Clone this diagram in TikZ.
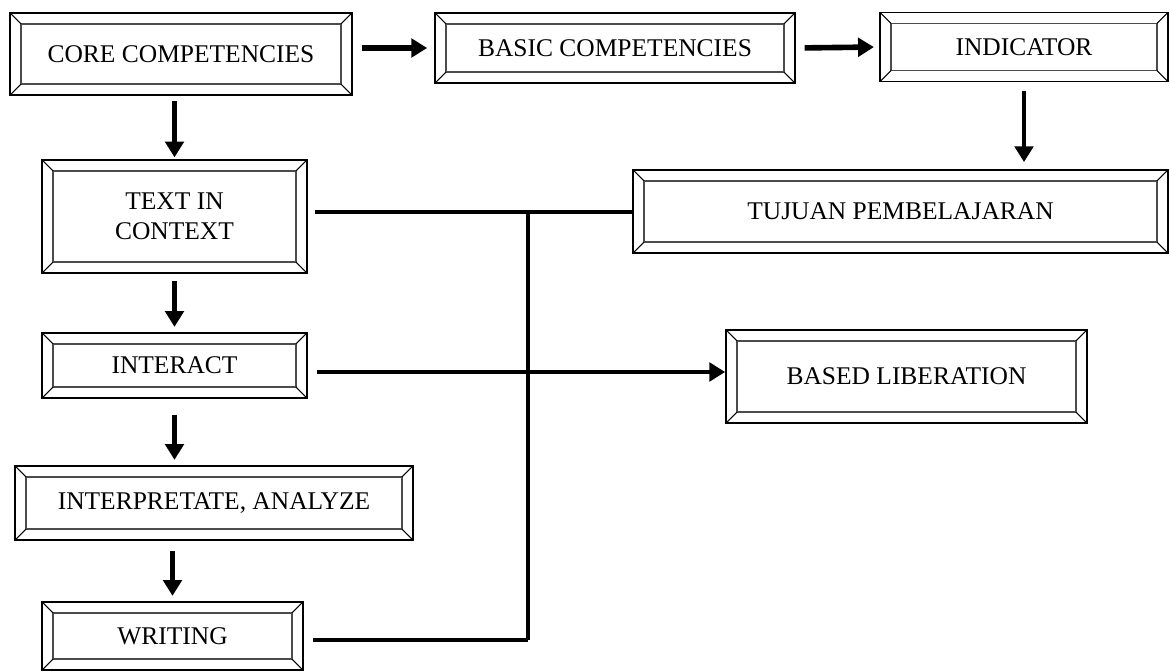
\documentclass[tikz,border=0pt]{standalone}
\usepackage{fontspec}
\setmainfont{Liberation Serif}
\usetikzlibrary{arrows.meta,positioning,calc}

\tikzset{
  bevel/.style={draw, line width=1pt, inner sep=0pt, align=center,
    font=\fontsize{14.5}{17}\selectfont,
    path picture={
      \draw[line width=1.1pt, black!70] ([shift={(0.22cm,-0.22cm)}]path picture bounding box.north west)
        rectangle ([shift={(-0.22cm,0.22cm)}]path picture bounding box.south east);
      \draw[line width=0.6pt] (path picture bounding box.north west) -- ++(0.22cm,-0.22cm)
        (path picture bounding box.north east) -- ++(-0.22cm,-0.22cm)
        (path picture bounding box.south west) -- ++(0.22cm,0.22cm)
        (path picture bounding box.south east) -- ++(-0.22cm,0.22cm);
    }},
  link/.style={line width=2.5pt},
  arr/.style={link, -{Triangle[width=10.5pt,length=9pt]}}
}

\begin{document}
\begin{tikzpicture}[x=0.02cm,y=-0.02cm]
	\useasboundingbox (0,0) rectangle (1170,672);

	\node[bevel, minimum width=6.84cm, minimum height=1.64cm] at (181,54) (core) {CORE COMPETENCIES};
	\node[bevel, minimum width=7.2cm, minimum height=1.4cm] at (615,48) (basic) {BASIC COMPETENCIES};
	\node[bevel, minimum width=5.76cm, minimum height=1.38cm] at (1024,47) (indic) {INDICATOR};

	\node[bevel, minimum width=5.3cm, minimum height=2.26cm] at (174.5,216.5) (text) {TEXT IN\\CONTEXT};
	\node[bevel, minimum width=10.7cm, minimum height=1.66cm] at (900.5,211.5) (tujuan) {TUJUAN PEMBELAJARAN};
	\node[bevel, minimum width=5.3cm, minimum height=1.3cm] at (174.5,365.5) (interact) {INTERACT};
	\node[bevel, minimum width=7.22cm, minimum height=1.86cm] at (906.5,376.5) (based) {BASED LIBERATION};
	\node[bevel, minimum width=7.96cm, minimum height=1.48cm] at (214,503) (interp) {INTERPRETATE, ANALYZE};
	\node[bevel, minimum width=5.22cm, minimum height=1.36cm] at (172.5,636) (writing) {WRITING};

	% top row
	\draw[arr, line width=3.2pt, shorten <=5pt, shorten >=4pt] (core.east |- basic.west) -- (basic.west);
	\draw[arr, line width=3.2pt, shorten <=5pt, shorten >=3pt] (basic.east) -- (indic.west);
	\draw[arr, shorten <=5pt, shorten >=4pt] (indic.south) -- (indic.south |- tujuan.north);

	% left column
	\draw[arr, shorten <=3pt, shorten >=1pt] (text.north |- core.south) -- (text.north);
	\draw[arr, shorten <=4pt, shorten >=3pt] (text.south) -- (interact.north);
	\draw[arr, shorten <=9pt, shorten >=3pt] (interact.south) -- (interact.south |- interp.north);
	\draw[arr, shorten <=6pt, shorten >=3pt] (writing.north |- interp.south) -- (writing.north);

	% trunk
	\coordinate (top) at (528,212);
	\coordinate (bot) at (528,640);
	\draw[link] ([xshift=4pt]text.east |- top) -- (tujuan.west |- top);
	\draw[link] (top) -- (bot);
	\draw[link] ([xshift=5pt]writing.east |- bot) -- (bot);
	\draw[arr] ([xshift=5pt]interact.east |- 0,372) -- (based.west |- 0,372);
\end{tikzpicture}
\end{document}
